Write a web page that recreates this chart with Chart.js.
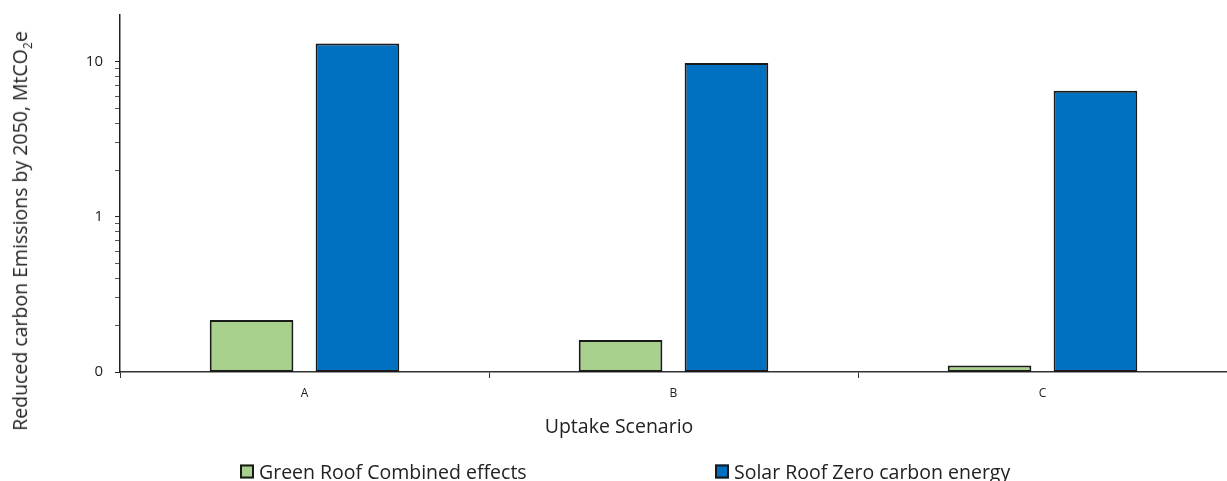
<!DOCTYPE html>
<html>
<head>
<meta charset="utf-8">
<script src="https://cdn.jsdelivr.net/npm/chart.js@4/dist/chart.umd.min.js"></script>
<style>
  html, body { margin: 0; padding: 0; background: #fff; }
  #wrap { position: relative; width: 1227px; height: 481px; font-family: "Open Sans", sans-serif; color: #222; }
  #chart { position: absolute; left: 0; top: 0; }
  .ytitle { position: absolute; left: 21px; top: 231px; transform: translate(-50%, -50%) rotate(-90deg); white-space: nowrap; font-size: 19.5px; }
  .ytitle sub { font-size: 12px; }
  .xtitle { position: absolute; left: 619px; top: 425px; transform: translate(-50%, -50%); font-size: 19.5px; white-space: nowrap; }
  .legend { position: absolute; top: 471px; transform: translateY(-50%); font-size: 19.5px; white-space: nowrap; display: flex; align-items: center; }
  .legend i { display: inline-block; width: 10px; height: 10px; border: 2px solid #1a1a1a; margin-right: 5px; }
</style>
</head>
<body>
<div id="wrap">
  <canvas id="chart" width="1227" height="481"></canvas>
  <div class="ytitle">Reduced carbon Emissions by 2050, MtCO<sub>2</sub>e</div>
  <div class="xtitle">Uptake Scenario</div>
  <div class="legend" style="left:240px"><i style="background:#a9d18e"></i>Green Roof Combined effects</div>
  <div class="legend" style="left:715px"><i style="background:#0070c0"></i>Solar Roof Zero carbon energy</div>
</div>
<script>
const scenarios = ["A", "B", "C"];
const greenRoof = [0.216, 0.161, 0.11];
const solarRoof = [13.1, 9.8, 6.5];
const majorTicks = [0.1, 1, 10];
const yMin = 0.1;
const yMax = 20;

// minor log ticks 1..9 within each decade, below yMax
const allTicks = [];
majorTicks.forEach(d => {
  for (let k = 1; k <= 9; k++) {
    const v = +(d * k).toPrecision(3);
    if (v < yMax) allTicks.push(v);
  }
});

const isMajor = v => majorTicks.some(m => Math.abs(m - v) < 1e-9);

new Chart(document.getElementById("chart"), {
  type: "bar",
  data: {
    labels: scenarios,
    datasets: [
      {
        label: "Green Roof Combined effects",
        data: greenRoof,
        backgroundColor: "#a9d18e",
        borderColor: "#1a1a1a",
        borderWidth: 2,
        borderSkipped: false,
      },
      {
        label: "Solar Roof Zero carbon energy",
        data: solarRoof,
        backgroundColor: "#0070c0",
        borderColor: "#1a1a1a",
        borderWidth: 2,
        borderSkipped: false,
      },
    ],
  },
  options: {
    responsive: false,
    animation: false,
    layout: { padding: { top: 15, right: 0, bottom: 69, left: 0 } },
    datasets: { bar: { categoryPercentage: 0.574, barPercentage: 0.79 } },
    plugins: { legend: { display: false }, tooltip: { enabled: false } },
    scales: {
      x: {
        grid: {
          offset: true,
          drawOnChartArea: false,
          drawTicks: true,
          tickLength: 6,
          color: "#333",
        },
        border: { color: "#333", width: 1.5 },
        ticks: { color: "#222", padding: 8, font: { family: "Open Sans", size: 12 } },
        afterFit: scale => { scale.height = 40; },
      },
      y: {
        type: "logarithmic",
        min: yMin,
        max: yMax,
        afterBuildTicks: scale => { scale.ticks = allTicks.map(v => ({ value: v })); },
        grid: {
          drawOnChartArea: false,
          drawTicks: true,
          tickLength: 5,
          color: ctx => (ctx.tick && isMajor(ctx.tick.value)) ? "#222" : "#555",
        },
        border: { color: "#222", width: 1.5 },
        ticks: {
          color: "#222",
          padding: 12,
          autoSkip: false,
          font: { family: "Open Sans", size: 15 },
          callback: v => isMajor(v) ? (v < 1 ? "0" : String(v)) : "",
        },
        afterFit: scale => {
          scale.width = 120;
          scale.paddingTop = 0;
          scale.paddingBottom = 0;
        },
      },
    },
  },
});
</script>
</body>
</html>
